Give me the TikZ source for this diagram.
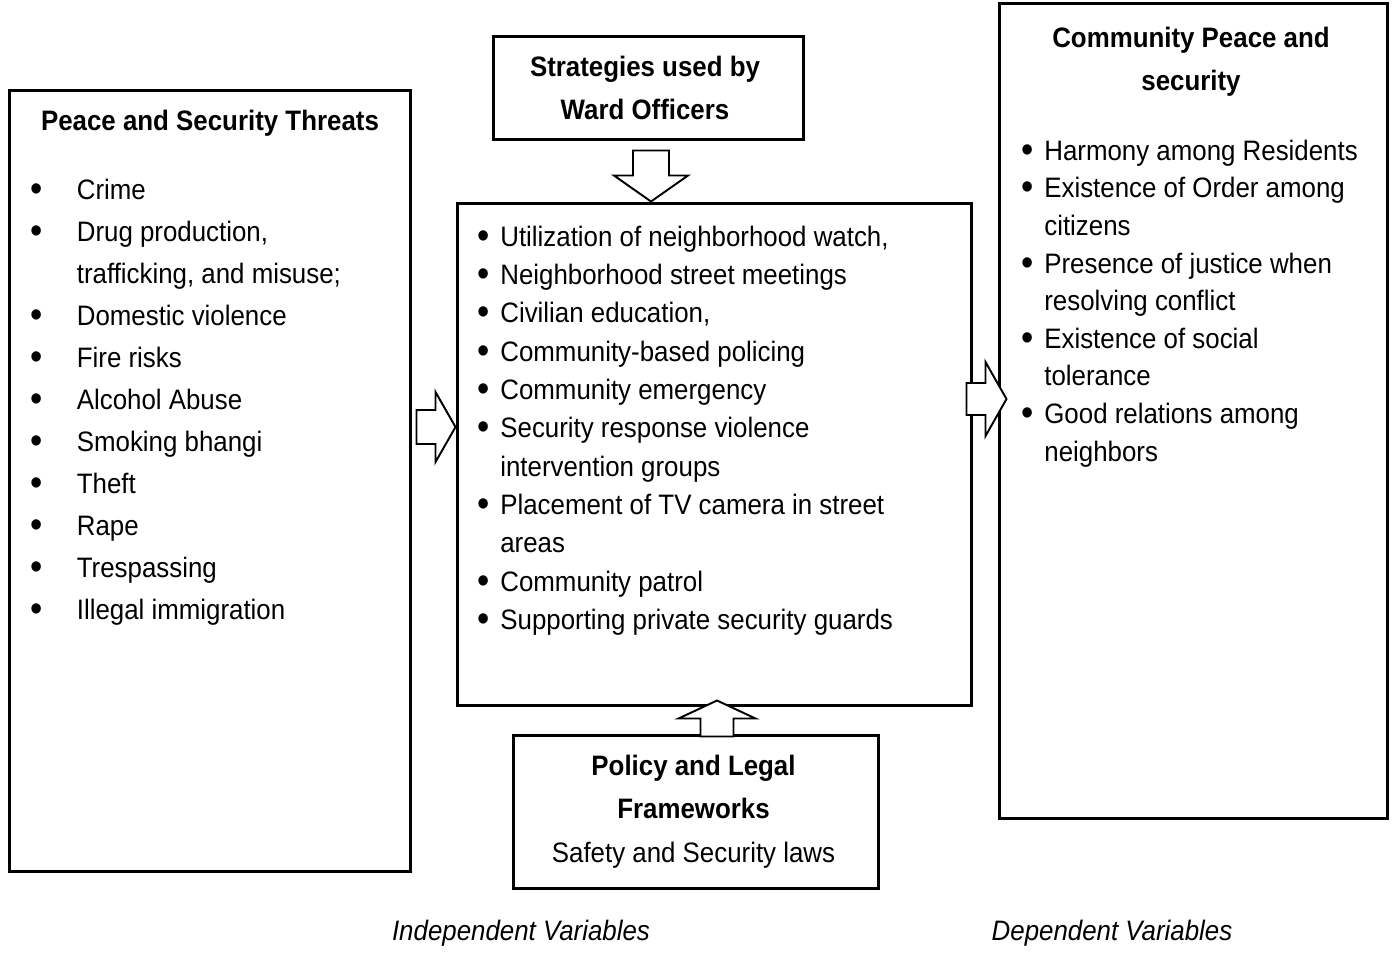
\documentclass[tikz,border=0pt]{standalone}
\usepackage{fontspec}
\setmainfont{Liberation Sans}[FakeStretch=0.92]
\usetikzlibrary{calc, positioning}

% list bullets with hanging indent
\newcommand{\dotmark}{\raisebox{-1.2pt}{\scalebox{1.35}{\textbullet}}}
\newcommand{\bulA}{\makebox[0.92cm][l]{\dotmark}}
\newcommand{\indA}{\hspace*{0.92cm}}
\newcommand{\bulB}{\makebox[0.45cm][l]{\dotmark}}
\newcommand{\indB}{\hspace*{0.45cm}}

\tikzset{
  box/.style={draw, line width=1.7pt, inner sep=0pt},
  head/.style={font=\fontsize{16}{24.4}\selectfont\bfseries, align=center, inner sep=0pt},
  listtxt/.style={align=left, inner sep=0pt, anchor=north west},
  blockarr/.style={draw, fill=white, line width=1.1pt, line join=miter},
  varlabel/.style={font=\fontsize{16}{19}\selectfont\itshape, inner sep=0pt}
}

\begin{document}
\begin{tikzpicture}
\useasboundingbox (0,0) rectangle (27.86,-19.04);

% boxes
\node[box, minimum width=8.02cm, minimum height=15.62cm] (threat) at (4.20,-9.61) {};
\node[box, minimum width=6.20cm, minimum height=2.06cm] (strat) at (12.96,-1.75) {};
\node[box, minimum width=10.28cm, minimum height=10.04cm] (mid) at (14.28,-9.08) {};
\node[box, minimum width=7.30cm, minimum height=3.06cm] (policy) at (13.91,-16.23) {};
\node[box, minimum width=7.76cm, minimum height=16.30cm] (goal) at (23.86,-8.21) {};

% headings
\node[head, anchor=base] (threathead) at ($(threat.north)+(0,-0.84)$) {Peace and Security Threats};
\node[head, anchor=north] (strathead) at ($(strat.north)+(-0.06,-0.42)$) {Strategies used by\\Ward Officers};
\node[head, anchor=north] (goalhead) at ($(goal.north)+(-0.04,-0.50)$) {Community Peace and\\security};
\node[head, anchor=north, font=\fontsize{16}{24.8}\selectfont\bfseries] (policyhead) at ($(policy.north)+(-0.04,-0.42)$)
  {Policy and Legal\\Frameworks\\\mdseries Safety and Security laws};

% lists
\node[listtxt, font=\fontsize{16}{23.9}\selectfont] (threatlist) at ($(threat.north west)+(0.45,-1.80)$) {%
\bulA Crime\\
\bulA Drug production,\\
\indA trafficking, and misuse;\\
\bulA Domestic violence\\
\bulA Fire risks\\
\bulA Alcohol Abuse\\
\bulA Smoking bhangi\\
\bulA Theft\\
\bulA Rape\\
\bulA Trespassing\\
\bulA Illegal immigration};

\node[listtxt, font=\fontsize{16}{21.8}\selectfont] (midlist) at ($(mid.north west)+(0.44,-0.48)$) {%
\bulB Utilization of neighborhood watch,\\
\bulB Neighborhood street meetings\\
\bulB Civilian education,\\
\bulB Community-based policing\\
\bulB Community emergency\\
\bulB Security response violence\\
\indB intervention groups\\
\bulB Placement of TV camera in street\\
\indB areas\\
\bulB Community patrol\\
\bulB Supporting private security guards};

\node[listtxt, font=\fontsize{16}{21.4}\selectfont] (goallist) at ($(goal.north west)+(0.48,-2.76)$) {%
\bulB Harmony among Residents\\
\bulB Existence of Order among\\
\indB citizens\\
\bulB Presence of justice when\\
\indB resolving conflict\\
\bulB Existence of social\\
\indB tolerance\\
\bulB Good relations among\\
\indB neighbors};

% block arrows
\coordinate (tipL) at ($(mid.west)+(0,0.54)$);
\coordinate (tipR) at ($(goal.west)+(0.18,0.23)$);
\coordinate (tipT) at ($(strat.south |- mid.north)+(0.06,0)$);
\coordinate (tipB) at ($(mid.south)+(0.06,0.12)$);
\draw[blockarr, shift={(tipL)}] (-0.78,-0.34) -- (-0.40,-0.34) -- (-0.40,-0.70) -- (0,0)
  -- (-0.40,0.70) -- (-0.40,0.34) -- (-0.78,0.34) -- cycle;
\draw[blockarr, shift={(tipR)}] (-0.80,-0.32) -- (-0.42,-0.32) -- (-0.42,-0.74) -- (0,0)
  -- (-0.42,0.74) -- (-0.42,0.32) -- (-0.80,0.32) -- cycle;
\draw[blockarr, shift={(tipT)}, rotate=-90] (-1.02,-0.36) -- (-0.52,-0.36) -- (-0.52,-0.74) -- (0,0)
  -- (-0.52,0.74) -- (-0.52,0.36) -- (-1.02,0.36) -- cycle;
\draw[blockarr, shift={(tipB)}, rotate=90] (-0.72,-0.33) -- (-0.36,-0.33) -- (-0.36,-0.77) -- (0,0)
  -- (-0.36,0.77) -- (-0.36,0.33) -- (-0.72,0.33) -- cycle;

% variable labels
\node[varlabel] (indep) at (10.42,-18.66) {Independent Variables};
\node[varlabel] (dep) at (22.24,-18.66) {Dependent Variables};
\end{tikzpicture}
\end{document}
